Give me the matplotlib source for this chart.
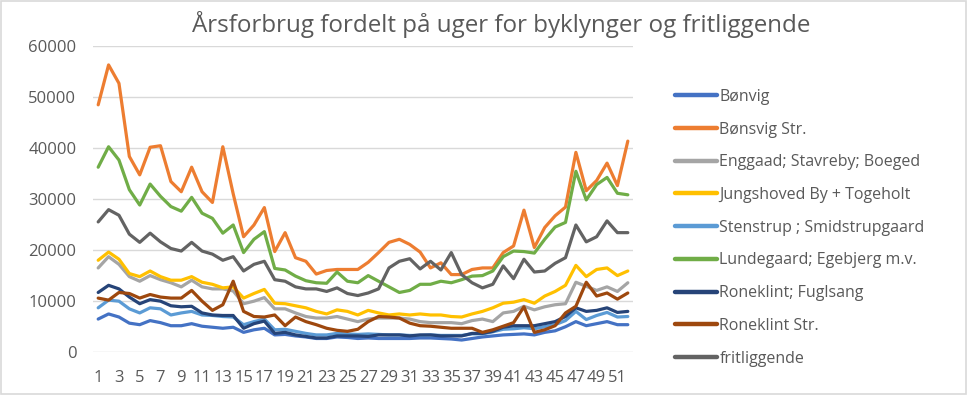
import matplotlib
matplotlib.use("Agg")
import matplotlib.pyplot as plt
from matplotlib.patches import Rectangle
import numpy as np

weeks = list(range(1, 53))

bonvig = [6500, 7500, 6900, 5700, 5400, 6200, 5800, 5200, 5200, 5600, 5100, 4900, 4700, 4900, 3900, 4400, 4700,
          3400, 3500, 3200, 3000, 2700, 2700, 3000, 2900, 2700, 2800, 2700, 2700, 2700, 2700, 2800, 2800, 2700, 2600,
          2400, 2700, 3000, 3200, 3400, 3500, 3600, 3400, 3900, 4200, 5000, 6000, 5200, 5600, 6000, 5400, 5400]
bonsvig_str = [48400, 56200, 52600, 38300, 34700, 40100, 40400, 33400, 31400, 36200, 31400, 29300, 40200, 31000,
               22600, 24900, 28300, 19700, 23400, 18500, 17800, 15300, 16000, 16200, 16200, 16200, 17600, 19500,
               21500, 22100, 21100, 19600, 16500, 17500, 15200, 15200, 16200, 16500, 16500, 19500, 20800, 27800,
               20500, 24400, 26700, 28400, 39100, 31600, 33600, 37000, 32600, 41300]
enggaad = [16500, 18700, 17200, 14800, 13900, 15000, 14200, 13600, 12800, 14100, 12800, 12400, 12400, 12000,
           9500, 10000, 10700, 8500, 8500, 7700, 7000, 6700, 6700, 7000, 6500, 6000, 6500, 6700, 6700, 6700, 6500,
           6000, 5800, 5800, 5800, 5600, 6200, 6500, 6000, 7700, 8000, 9000, 8300, 8900, 9300, 9500, 13700, 12900,
           12100, 12800, 11900, 13600]
jungshoved = [18000, 19600, 18200, 15400, 14800, 15900, 14800, 14100, 14100, 14800, 13700, 13300, 12600, 12800,
              10600, 11500, 12300, 9600, 9500, 9100, 8700, 8000, 7500, 8300, 8000, 7300, 8200, 7700, 7300, 7500,
              7300, 7500, 7300, 7300, 7000, 6900, 7500, 8000, 8700, 9600, 9800, 10300, 9600, 11000, 11900, 13100,
              17000, 14800, 16200, 16500, 15000, 15900]
stenstrup = [8700, 10200, 10000, 8500, 7700, 8700, 8500, 7300, 7700, 8000, 7300, 7200, 7000, 6900, 5400, 6000,
             6500, 4400, 4500, 4100, 3700, 3400, 3400, 3700, 3600, 3500, 3600, 3500, 3400, 3400, 3300, 3300, 3400,
             3300, 3300, 3300, 3600, 3600, 4000, 4500, 4600, 4800, 4600, 5000, 5400, 6200, 8000, 6400, 7200, 7800,
             6900, 7000]
lundegaard = [36200, 40200, 37600, 31800, 28800, 32900, 30500, 28500, 27600, 30300, 27200, 26200, 23300, 24900,
              19500, 22100, 23600, 16400, 16100, 14900, 14000, 13600, 13500, 15700, 13900, 13600, 15000, 13900,
              12800, 11700, 12100, 13300, 13300, 13900, 13600, 14200, 14900, 15000, 15900, 18700, 19800, 19700,
              19400, 22100, 24500, 25400, 35400, 29800, 32800, 34200, 31100, 30800]
roneklint_fuglsang = [11700, 13100, 12400, 10800, 9500, 10300, 10000, 9100, 8900, 9000, 7700, 7300, 7200, 7200,
                      4700, 5600, 6100, 3700, 3900, 3400, 3100, 2800, 2800, 3200, 3200, 3200, 3100, 3400, 3400,
                      3400, 3200, 3400, 3400, 3200, 3200, 3200, 3700, 3700, 4100, 4900, 5200, 5200, 5200, 5600,
                      6000, 7000, 8700, 8000, 8200, 8700, 7800, 8000]
roneklint_str = [10600, 10200, 11700, 11500, 10600, 11300, 10800, 10600, 10600, 12100, 10000, 8200, 9300, 13900,
                 8000, 7000, 6900, 7300, 5200, 6900, 6000, 5400, 4700, 4300, 4100, 4500, 6000, 7000, 6900, 6700,
                 5700, 5200, 5100, 4900, 4700, 4700, 4700, 3900, 4400, 5100, 5800, 8900, 3900, 4400, 5200, 7700,
                 9000, 13700, 11000, 11600, 10400, 11600]
fritliggende = [25500, 27900, 26800, 23100, 21500, 23300, 21600, 20300, 19800, 21500, 19800, 19200, 18000, 18700,
                15900, 17200, 17800, 14200, 13900, 12800, 12400, 12400, 11900, 12600, 11500, 11100, 11600, 12400,
                16500, 17800, 18300, 16300, 17800, 16100, 19500, 15200, 13600, 12600, 13300, 16900, 14400, 18200,
                15700, 15900, 17400, 18500, 24900, 21600, 22600, 25700, 23400, 23400]

series_names = ["Bønvig", "Bønsvig Str.", "Enggaad; Stavreby; Boeged", "Jungshoved By + Togeholt",
                "Stenstrup ; Smidstrupgaard", "Lundegaard; Egebjerg m.v.", "Roneklint; Fuglsang",
                "Roneklint Str.", "fritliggende"]
series_values = [bonvig, bonsvig_str, enggaad, jungshoved, stenstrup, lundegaard,
                 roneklint_fuglsang, roneklint_str, fritliggende]
colors = ["#4472C4", "#ED7D31", "#A5A5A5", "#FFC000", "#5B9BD5", "#70AD47", "#264478", "#9E480E", "#636363"]

title = "Årsforbrug fordelt på uger for byklynger og fritliggende"
yticks = [0, 10000, 20000, 30000, 40000, 50000, 60000]

plt.rcParams['font.family'] = ['Open Sans', 'DejaVu Sans']
txt = "#595959"

fig = plt.figure(figsize=(9.67, 3.95), dpi=100)
ax = fig.add_axes([93/967, 1-352.3/395, 540/967, (352.3-45.5)/395])

for name, vals, c in zip(series_names, series_values, colors):
    ax.plot(weeks, vals, color=c, lw=2.3, label=name, solid_joinstyle='round', solid_capstyle='round')

ax.set_xlim(0.5, 52.5)
ax.set_ylim(0, 60000)
ax.set_yticks(yticks)
ax.set_yticklabels([str(v) for v in yticks])
ax.set_xticks(weeks[::2])
ax.set_xticklabels([str(w) for w in weeks[::2]])
ax.grid(axis='y', color="#D9D9D9", lw=1.0)
ax.set_axisbelow(True)
for s in ax.spines.values():
    s.set_visible(False)
ax.tick_params(axis='both', length=0, colors=txt, labelsize=12)
ax.tick_params(axis='y', pad=12)
ax.tick_params(axis='x', pad=13)

fig.text(501/967, 1-25/395, title, ha='center', va='center', fontsize=17.4, color=txt)

leg = fig.legend(loc='upper left', bbox_to_anchor=(675/967, 1-89/395), frameon=False,
                 fontsize=11.5, handlelength=2.6, handletextpad=0.18, labelspacing=1.045,
                 labelcolor=txt, borderpad=0, borderaxespad=0)
for h in leg.get_lines():
    h.set_linewidth(3.2)

fig.patches.append(Rectangle((1/967, 1/395), 965/967, 393/395, transform=fig.transFigure,
                             fill=False, edgecolor="#D9D9D9", lw=1.2))

fig.savefig("out.png", dpi=100)
